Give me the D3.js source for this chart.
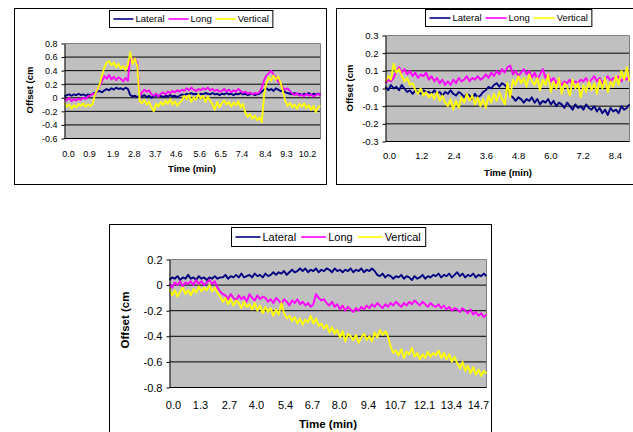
<!DOCTYPE html>
<html>
<head>
<meta charset="utf-8">
<script src="https://cdn.jsdelivr.net/npm/d3@7"></script>
<style>
  body { margin: 0; background: #fff; }
  svg { display: block; font-family: "Liberation Sans", Arial, sans-serif; }
</style>
</head>
<body>
<script>
// Series names and colours (same for all three charts)
const seriesNames = ["Lateral", "Long", "Vertical"];
const seriesColors = ["#000080", "#ff00ff", "#ffff00"];

// ---- Chart 1 (top left) ----
const c1TimeSpan = 10.92;
const c1XLabels = ["0.0", "0.9", "1.9", "2.8", "3.7", "4.6", "5.6", "6.5", "7.4", "8.4", "9.3", "10.2"];
const c1YTicks = [-0.6, -0.4, -0.2, 0, 0.2, 0.4, 0.6, 0.8];
const c1Lateral = [0.02,0.04,0.05,0.03,0.05,0.04,0.06,0.04,0.05,0.03,0.05,0.04,0.06,
  0.07,0.09,
  0.10,0.08,0.11,0.13,0.11,0.14,0.12,0.15,0.13,0.14,0.12,0.15,0.13,
  0.04,0.02,0.03,0.01,0.03,0.02,0.04,0.01,0.03,0.00,0.02,0.04,0.02,0.03,0.01,0.03,0.02,0.04,0.02,0.03,0.01,0.03,
  0.05,0.04,0.06,0.05,0.07,0.05,0.06,0.04,0.06,0.05,0.07,0.06,0.05,0.07,0.05,0.06,0.04,0.06,0.05,0.07,0.05,0.06,0.04,0.06,0.05,0.07,0.05,0.06,0.04,0.05,0.06,0.04,0.05,0.06,
  0.09,0.12,
  0.14,0.11,0.13,0.10,0.14,0.12,0.10,0.11,
  0.08,0.07,0.06,
  0.05,0.07,0.05,0.06,0.04,0.06,0.05,0.07,0.04,0.06,0.05,0.06,0.05];
const c1Long = [-0.01,-0.04,0.00,-0.05,-0.02,-0.04,-0.01,-0.03,0.00,-0.02,0.02,
  0.03,0.06,0.04,
  0.12,0.18,
  0.25,0.32,0.28,0.34,
  0.27,0.31,0.26,0.30,0.28,0.24,0.29,0.25,
  0.62,0.55,0.58,0.52,
  0.02,
  0.08,0.12,0.09,0.11,
  0.05,0.03,0.06,0.02,
  0.06,0.08,0.05,0.09,0.07,0.10,0.08,0.11,0.09,
  0.12,0.10,0.14,0.11,0.15,0.12,0.10,0.13,0.11,0.14,0.12,0.15,0.11,0.13,0.10,0.12,0.09,
  0.10,0.13,0.09,0.12,0.08,0.11,0.09,0.13,0.10,0.07,0.09,0.06,0.08,0.05,0.07,0.06,0.08,
  0.15,0.26,0.33,
  0.36,0.40,0.34,0.30,
  0.24,0.20,0.15,
  0.12,0.14,0.10,
  0.06,0.04,0.07,0.03,0.05,0.02,0.06,0.03,0.05,0.02,0.04,0.06,0.03];
const c1Vertical = [-0.08,-0.13,-0.10,-0.16,-0.11,-0.14,-0.09,-0.12,-0.08,-0.13,-0.10,-0.12,-0.09,
  0.05,0.12,0.20,
  0.34,0.45,0.52,
  0.54,0.48,0.52,0.45,0.50,0.43,0.47,0.41,0.49,
  0.67,0.50,0.58,0.47,
  -0.05,
  -0.08,-0.03,-0.10,-0.06,
  -0.14,-0.20,-0.09,-0.13,
  -0.06,-0.11,-0.04,-0.09,-0.02,-0.10,-0.05,-0.12,-0.07,
  -0.04,0.03,-0.02,0.04,-0.06,0.01,
  -0.03,0.05,-0.01,0.03,-0.06,0.02,-0.04,
  -0.10,-0.18,-0.06,-0.14,-0.08,
  -0.04,-0.10,-0.06,-0.13,-0.07,-0.11,-0.05,-0.14,-0.09,
  -0.22,-0.28,-0.24,-0.31,-0.26,-0.33,-0.29,
  -0.36,0.05,0.22,
  0.30,0.25,0.33,0.27,0.31,
  0.22,0.10,-0.05,
  -0.12,-0.08,-0.14,-0.10,-0.16,-0.09,-0.13,-0.08,-0.15,-0.11,-0.18,-0.12,-0.21,-0.14,-0.12];

// ---- Chart 2 (top right) ----
const c2TimeSpan = 9.07;
const c2XLabels = ["0.0", "1.2", "2.4", "3.6", "4.8", "6.0", "7.2", "8.4"];
const c2YTicks = [-0.3, -0.2, -0.1, 0, 0.1, 0.2, 0.3];
const c2Lateral = [0.01,-0.01,0.02,0.00,0.01,-0.01,0.02,0.00,
  -0.02,-0.01,-0.03,-0.01,-0.02,-0.03,-0.01,-0.02,
  -0.02,-0.03,-0.01,-0.03,-0.02,-0.04,-0.02,-0.03,-0.01,-0.03,-0.04,-0.02,-0.03,-0.05,-0.03,
  -0.04,-0.06,-0.03,-0.05,-0.04,-0.02,
  -0.01,0.01,0.00,0.02,0.03,0.01,0.03,0.02,
  0.00,-0.04,
  -0.05,-0.07,-0.05,-0.06,-0.08,-0.06,-0.07,-0.05,-0.08,-0.06,-0.09,-0.07,-0.08,-0.06,
  -0.09,-0.07,-0.10,-0.08,-0.09,-0.11,-0.08,-0.10,-0.12,-0.09,-0.11,-0.10,-0.12,-0.09,-0.11,
  -0.12,-0.10,-0.13,-0.11,-0.14,-0.12,-0.15,-0.11,-0.13,-0.12,-0.14,-0.10,-0.12,-0.11,-0.09];
const c2Long = [0.03,0.05,0.04,0.06,
  0.10,0.12,0.09,0.11,
  0.08,0.10,0.07,0.09,0.06,0.08,0.07,0.09,
  0.05,0.07,0.04,0.06,0.03,0.05,0.02,
  0.04,0.02,0.05,0.03,0.06,0.04,0.05,0.07,0.04,0.06,0.05,0.07,0.05,
  0.06,0.08,0.06,0.09,0.07,0.10,0.08,0.11,0.09,0.12,0.13,
  0.08,0.10,0.07,0.09,0.11,0.08,
  0.10,0.06,0.09,0.05,0.08,0.11,0.06,0.08,
  0.04,0.06,0.03,0.05,0.02,0.04,0.03,0.05,0.02,0.04,0.03,0.05,
  0.04,0.06,0.03,0.05,0.07,0.04,0.06,0.03,0.05,0.07,0.04,0.06,0.05,0.07,0.04,0.06,0.05,0.07];
const c2Vertical = [0.04,0.07,0.05,
  0.14,0.09,0.11,
  0.07,0.04,0.06,0.02,0.03,
  -0.01,-0.03,0.00,-0.04,-0.02,-0.05,
  -0.03,-0.06,-0.02,-0.07,-0.04,-0.08,
  -0.10,-0.06,-0.12,-0.07,-0.11,-0.05,
  -0.08,-0.03,-0.07,-0.04,-0.09,-0.05,-0.10,
  -0.06,-0.11,-0.04,-0.08,-0.03,-0.07,-0.02,-0.06,
  -0.09,0.03,-0.05,
  0.05,0.02,0.07,0.03,0.06,0.01,0.08,0.04,0.02,0.06,
  -0.01,0.05,0.02,0.08,-0.02,0.04,0.00,0.06,-0.03,0.03,
  0.01,-0.04,0.05,0.00,0.03,-0.05,0.02,-0.02,0.04,-0.01,
  0.03,-0.03,0.05,0.00,0.06,-0.02,0.04,0.01,
  0.07,0.02,0.10,0.05,0.12,0.04];

// ---- Chart 3 (bottom) ----
const c3TimeSpan = 15.28;
const c3XLabels = ["0.0", "1.3", "2.7", "4.0", "5.4", "6.7", "8.0", "9.4", "10.7", "12.1", "13.4", "14.7"];
const c3YTicks = [-0.8, -0.6, -0.4, -0.2, 0, 0.2];
const c3Lateral = [0.04,0.06,0.05,0.07,0.04,0.06,0.05,0.08,0.05,0.06,0.04,0.07,0.05,0.06,0.04,0.06,0.05,0.07,0.05,0.06,
  0.06,0.08,0.05,0.07,0.06,0.08,0.06,0.09,0.06,0.07,0.08,0.06,0.09,0.07,0.08,0.06,0.09,0.07,0.08,0.10,
  0.08,0.10,0.09,0.11,0.08,0.10,0.12,0.10,0.11,0.13,
  0.11,0.13,0.10,0.12,0.11,0.13,0.10,0.12,0.11,0.13,0.12,0.10,0.13,0.11,0.12,0.10,0.12,0.11,0.13,0.10,0.12,0.11,0.13,0.10,0.12,0.11,0.13,0.11,
  0.08,
  0.07,0.09,0.06,0.08,0.07,0.05,0.07,0.06,0.08,0.05,0.07,0.06,0.04,0.07,0.05,0.06,0.08,0.05,0.07,0.06,0.08,
  0.07,0.09,0.06,0.08,0.07,0.09,0.06,0.08,0.10,0.07,0.09,0.06,0.08,0.07,0.09,0.06,0.08,0.07,0.09,0.07];
const c3Long = [0.01,-0.02,0.02,0.00,0.03,-0.01,0.02,0.01,0.03,0.00,0.04,0.01,0.03,0.00,0.02,0.04,0.01,0.03,
  -0.02,-0.05,-0.07,
  -0.08,-0.11,-0.07,-0.10,-0.12,-0.08,-0.11,-0.09,-0.13,-0.07,-0.10,-0.12,-0.08,-0.11,-0.09,
  -0.10,-0.13,-0.11,-0.14,-0.10,-0.12,-0.15,-0.11,-0.13,-0.16,-0.12,-0.14,-0.11,-0.15,-0.13,-0.16,-0.14,-0.17,-0.15,
  -0.07,-0.10,-0.12,-0.11,
  -0.14,-0.16,-0.13,-0.17,-0.15,-0.19,-0.16,-0.20,-0.17,-0.19,-0.21,-0.18,-0.20,-0.17,
  -0.19,-0.16,-0.18,-0.15,-0.17,-0.14,-0.16,-0.18,-0.15,-0.17,-0.14,-0.16,-0.13,-0.15,-0.17,-0.14,-0.16,-0.13,-0.15,-0.12,-0.14,-0.16,-0.13,-0.15,-0.17,-0.14,-0.16,
  -0.17,-0.15,-0.18,-0.16,-0.19,-0.17,-0.20,-0.18,-0.19,-0.21,-0.18,-0.20,
  -0.22,-0.19,-0.23,-0.21,-0.24,-0.22,-0.25,-0.23];
const c3Vertical = [-0.03,-0.08,-0.04,-0.09,-0.05,-0.02,-0.07,-0.04,-0.08,-0.03,-0.06,-0.01,-0.05,-0.02,
  -0.04,0.00,-0.05,-0.02,-0.06,
  -0.09,-0.13,-0.10,-0.15,-0.11,-0.16,-0.12,-0.14,-0.18,-0.13,-0.17,
  -0.15,-0.19,-0.14,-0.20,-0.16,-0.22,-0.17,-0.21,-0.18,-0.24,-0.19,-0.23,
  -0.14,-0.22,-0.26,
  -0.24,-0.28,-0.25,-0.30,-0.26,-0.31,-0.27,-0.29,-0.24,-0.30,-0.26,-0.32,
  -0.30,-0.34,-0.31,-0.37,-0.33,-0.38,-0.35,-0.41,-0.36,-0.44,-0.38,
  -0.40,-0.43,-0.39,-0.45,-0.41,-0.38,-0.43,-0.40,-0.44,-0.37,-0.41,-0.35,-0.39,-0.36,-0.40,
  -0.48,-0.53,
  -0.51,-0.55,-0.50,-0.57,-0.52,-0.54,-0.49,-0.56,-0.53,-0.58,-0.54,-0.57,-0.52,-0.56,-0.53,
  -0.55,-0.51,-0.57,-0.53,-0.58,-0.54,-0.60,-0.56,
  -0.61,-0.65,-0.60,-0.67,-0.63,-0.69,-0.64,-0.70,-0.66,-0.71,-0.67,-0.69];

const svg = d3.select("body").append("svg")
    .attr("width", 633)
    .attr("height", 432);

const fmtY = v => v === 0 ? "0" : v.toFixed(1);

function drawChart(o) {
    const g = svg.append("g");

    // outer chart border
    g.append("rect")
        .attr("x", o.box[0]).attr("y", o.box[1])
        .attr("width", o.box[2]).attr("height", o.box[3])
        .attr("fill", "#fff").attr("stroke", "#000");

    const x = d3.scaleLinear().domain([0, o.tSpan]).range([o.left, o.right]);
    const y = d3.scaleLinear().domain(d3.extent(o.yTicks)).range([o.bottom, o.top]);

    // plot area
    g.append("rect")
        .attr("x", o.left).attr("y", o.top)
        .attr("width", o.right - o.left).attr("height", o.bottom - o.top)
        .attr("fill", "#c0c0c0");

    // gridlines
    g.selectAll(".grid")
        .data(o.yTicks.slice(1, -1))
        .enter().append("line")
        .attr("x1", o.left).attr("x2", o.right)
        .attr("y1", d => y(d)).attr("y2", d => y(d))
        .attr("stroke", "#000");

    // grey plot frame on top and right
    g.append("path")
        .attr("d", `M${o.left},${o.top}H${o.right}V${o.bottom}`)
        .attr("fill", "none").attr("stroke", "#808080");

    // series
    const series = [o.lateral, o.long, o.vertical];
    series.forEach((vals, k) => {
        const step = o.tSpan / (vals.length - 1);
        const line = d3.line()
            .x((d, i) => x(i * step))
            .y(d => y(d));
        g.append("path")
            .datum(vals)
            .attr("d", line)
            .attr("fill", "none")
            .attr("stroke", seriesColors[k])
            .attr("stroke-width", 1.9)
            .attr("stroke-linejoin", "round");
    });

    // y axis
    g.append("g")
        .attr("transform", `translate(${o.left},0)`)
        .call(d3.axisLeft(y).tickValues(o.yTicks).tickFormat(fmtY).tickSize(3).tickSizeOuter(0).tickPadding(4))
        .call(a => a.selectAll("text").attr("font-size", o.fs).attr("font-family", "Liberation Sans, Arial, sans-serif"))
        .call(a => a.selectAll("line,path").attr("stroke", "#000"));

    // x axis line and category labels
    g.append("line")
        .attr("x1", o.left).attr("x2", o.right)
        .attr("y1", o.bottom).attr("y2", o.bottom)
        .attr("stroke", "#000");
    g.selectAll(".xl")
        .data(o.xLabels)
        .enter().append("text")
        .attr("x", d => x(+d) + 4)
        .attr("y", o.bottom + o.xLabelGap)
        .attr("dy", "0.35em")
        .attr("text-anchor", "middle")
        .attr("font-size", o.fs)
        .text(d => d);

    // axis titles
    g.append("text")
        .attr("x", o.xTitle[0]).attr("y", o.xTitle[1])
        .attr("dy", "0.35em")
        .attr("text-anchor", "middle")
        .attr("font-weight", "bold")
        .attr("font-size", o.titleFs)
        .text("Time (min)");
    g.append("text")
        .attr("transform", `translate(${o.yTitle[0]},${o.yTitle[1]}) rotate(-90)`)
        .attr("dy", "0.35em")
        .attr("text-anchor", "middle")
        .attr("font-weight", "bold")
        .attr("font-size", o.titleFs)
        .text("Offset (cm");

    // legend
    const leg = g.append("g");
    const legRect = leg.append("rect")
        .attr("fill", "#fff").attr("stroke", "#000");
    let cx = o.legend[0] + 4;
    const cy = o.legend[1] + o.legend[2] / 2;
    seriesNames.forEach((name, k) => {
        leg.append("line")
            .attr("x1", cx).attr("x2", cx + o.legLine)
            .attr("y1", cy).attr("y2", cy)
            .attr("stroke", seriesColors[k])
            .attr("stroke-width", 1.6);
        const t = leg.append("text")
            .attr("x", cx + o.legLine + 2)
            .attr("y", cy)
            .attr("dy", "0.35em")
            .attr("font-size", o.legFs)
            .text(name);
        cx += o.legLine + 2 + t.node().getComputedTextLength() + o.legGap;
    });
    legRect
        .attr("x", o.legend[0]).attr("y", o.legend[1])
        .attr("width", cx - o.legend[0]).attr("height", o.legend[2]);
}

drawChart({
    box: [14.5, 8.5, 312, 176],
    left: 64.5, right: 320.5, top: 43.5, bottom: 138.5,
    tSpan: c1TimeSpan, xLabels: c1XLabels, yTicks: c1YTicks,
    lateral: c1Lateral, long: c1Long, vertical: c1Vertical,
    fs: 9, titleFs: 9.5, legFs: 9.5, legLine: 20, legGap: 4, xLabelGap: 15,
    xTitle: [192, 168.5], yTitle: [29.5, 90],
    legend: [109.5, 10.5, 17]
});

drawChart({
    box: [336.5, 8.5, 310, 176],
    left: 385.5, right: 629.5, top: 35.5, bottom: 141.5,
    tSpan: c2TimeSpan, xLabels: c2XLabels, yTicks: c2YTicks,
    lateral: c2Lateral, long: c2Long, vertical: c2Vertical,
    fs: 9.5, titleFs: 9.5, legFs: 9.5, legLine: 21, legGap: 4, xLabelGap: 14,
    xTitle: [508, 172.5], yTitle: [350, 88],
    legend: [425.5, 9.5, 17]
});

drawChart({
    box: [109.5, 224.5, 382, 220],
    left: 169.5, right: 486.5, top: 259.5, bottom: 387.5,
    tSpan: c3TimeSpan, xLabels: c3XLabels, yTicks: c3YTicks,
    lateral: c3Lateral, long: c3Long, vertical: c3Vertical,
    fs: 11, titleFs: 11.5, legFs: 11, legLine: 25, legGap: 5, xLabelGap: 17.5,
    xTitle: [328, 423.5], yTitle: [125, 320],
    legend: [231.5, 227.5, 19]
});
</script>
</body>
</html>
